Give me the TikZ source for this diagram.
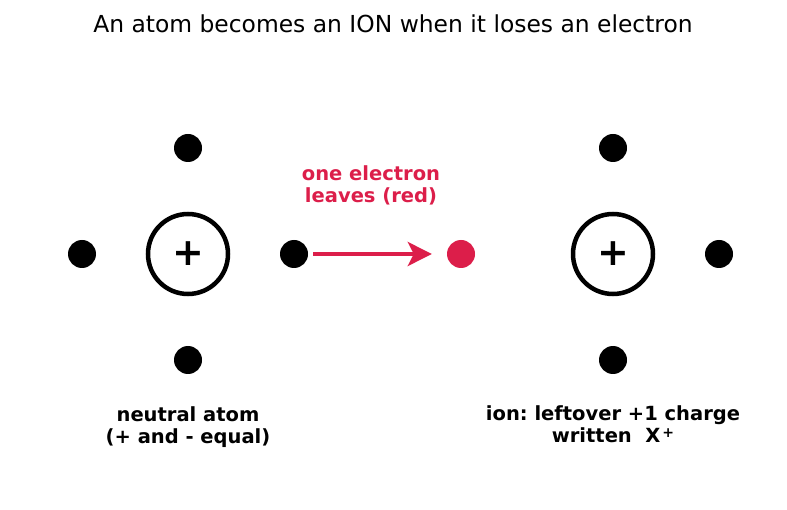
\documentclass[tikz,border=0pt]{standalone}
\usepackage{fontspec}
\setmainfont{DejaVu Sans}
\usetikzlibrary{arrows.meta, positioning}
\usepackage{xcolor}
\definecolor{LostRed}{HTML}{DC1E4A}
\tikzset{
  nucleus/.style={circle, draw=black, line width=4.5pt, minimum size=80pt,
    inner sep=0pt, font=\fontsize{38}{38}\selectfont\bfseries},
  electron/.style={circle, fill=black, minimum size=28pt, inner sep=0pt},
  lost/.style={electron, fill=LostRed},
  caption/.style={align=center, font=\fontsize{19.5}{22}\selectfont\bfseries},
  flow/.style={-{Stealth[length=24pt, width=24pt, inset=6pt]}, line width=4pt, draw=LostRed},
}

\begin{document}
\frenchspacing
\begin{tikzpicture}[x=1pt, y=-1pt]
    \useasboundingbox (0,0) rectangle (787,510);
    \node[font=\fontsize{23.4}{26}\selectfont] (title) at (393,24) {An atom becomes an ION when it loses an electron};
    % neutral atom
    \node[nucleus] (n1) at (188,254) {+};
    \node[electron] (a1) at (188,148) {};
    \node[electron] (a2) at (82,254) {};
    \node[electron] (a3) at (294,254) {};
    \node[electron] (a4) at (188,360) {};
    \node[caption] (c1) at (188,427) {neutral atom\\(+ and - equal)};
    % the electron that leaves
    \node[lost] (gone) at (461,254) {};
    \node[caption, text=LostRed] (c2) at (371,185) {one electron\\leaves (red)};
    \draw[flow, shorten <=5pt, shorten >=15pt] (a3) -- (gone);
    % ion
    \node[nucleus] (n2) at (613,254) {+};
    \node[electron] (b1) at (613,148) {};
    \node[electron] (b2) at (719,254) {};
    \node[electron] (b3) at (613,360) {};
    \node[caption] (c3) at (613,424) {ion: leftover +1 charge\\written\ \ X\kern2pt\raisebox{5pt}{\fontsize{14}{14}\selectfont+}};
  \end{tikzpicture}
\end{document}
